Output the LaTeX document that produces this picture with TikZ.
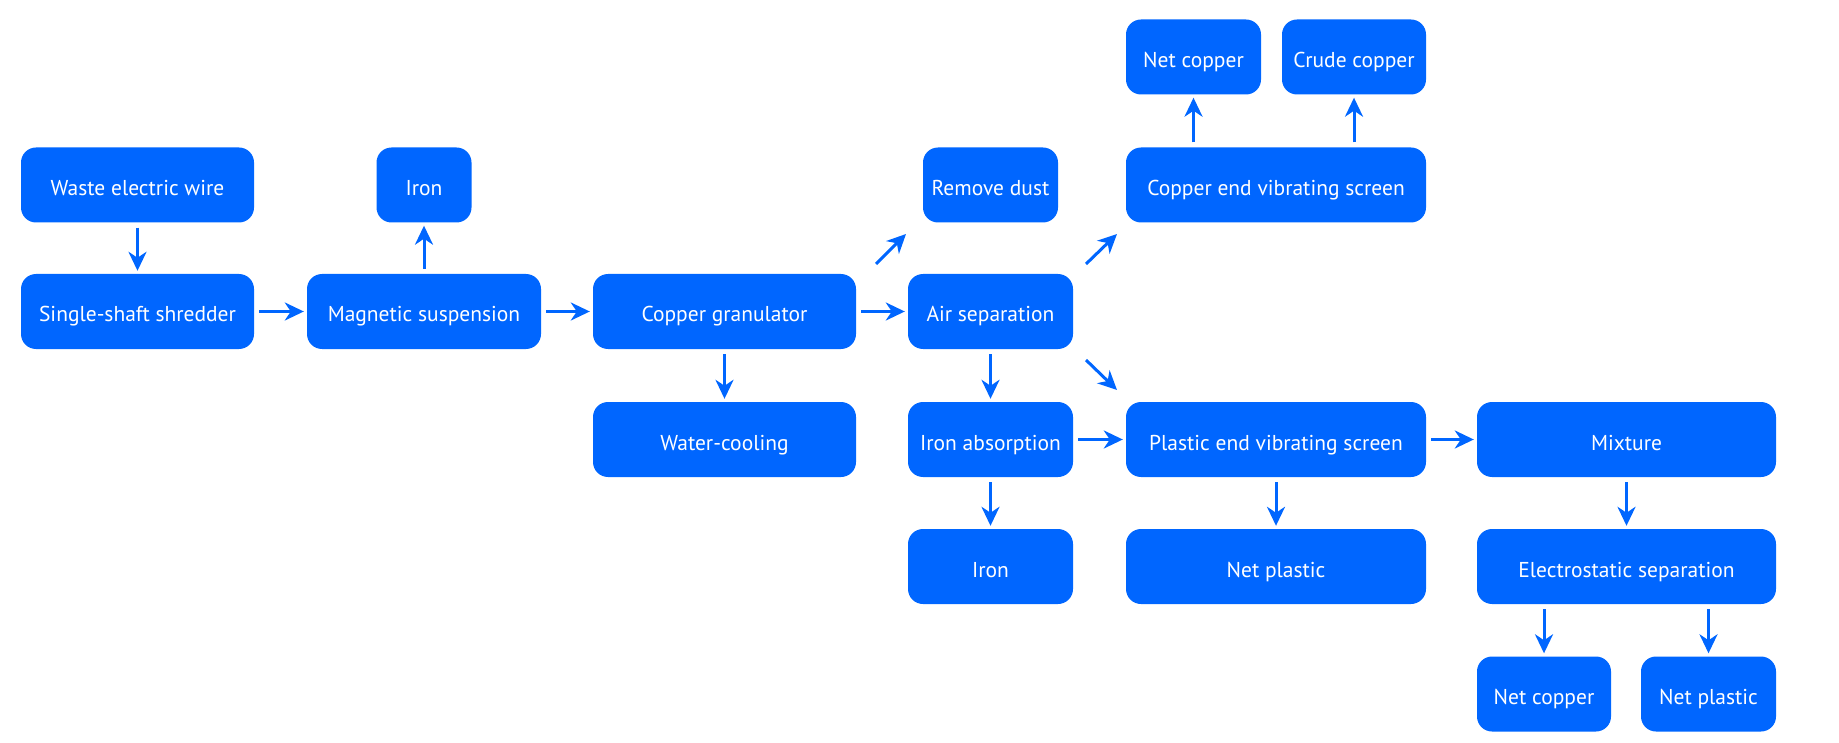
\documentclass[tikz,border=0pt]{standalone}
\usepackage{fontspec}
\setmainfont{PT Sans}
\usetikzlibrary{arrows.meta}
\definecolor{boxblue}{RGB}{0,102,255}
\begin{document}
\begin{tikzpicture}[x=1pt,y=-1pt,
  box/.style={fill=boxblue, rounded corners=15pt, minimum height=75pt, inner sep=0pt, text=white, text height=21pt, text depth=0pt, font=\fontsize{21.5}{25}\selectfont},
  arr/.style={draw=boxblue, line width=3pt, -{Stealth[length=19pt,width=18pt,inset=6pt]}, shorten >=3pt, shorten <=5pt}]
\useasboundingbox (0,0) rectangle (1839,743);
% row 0
\node[box, minimum width=135pt] (netcuA) at (1193.5,57) {Net copper};
\node[box, minimum width=144pt] (crude) at (1354,57) {Crude copper};
% row 1
\node[box, minimum width=233pt] (waste) at (137.5,185) {Waste electric wire};
\node[box, minimum width=95pt] (ironA) at (424,185) {Iron};
\node[box, minimum width=135pt] (dust) at (990.5,185) {Remove dust};
\node[box, minimum width=300pt] (cuscreen) at (1276,185) {Copper end vibrating screen};
% row 2
\node[box, minimum width=233pt] (shredder) at (137.5,311.5) {Single-shaft shredder};
\node[box, minimum width=234pt] (magnetic) at (424,311.5) {Magnetic suspension};
\node[box, minimum width=263pt] (granulator) at (724.5,311.5) {Copper granulator};
\node[box, minimum width=165pt] (air) at (990.5,311.5) {Air separation};
% row 3
\node[box, minimum width=263pt] (water) at (724.5,439.5) {Water-cooling};
\node[box, minimum width=165pt] (ironabs) at (990.5,439.5) {Iron absorption};
\node[box, minimum width=300pt] (plscreen) at (1276,439.5) {Plastic end vibrating screen};
\node[box, minimum width=299pt] (mixture) at (1626.5,439.5) {Mixture};
% row 4
\node[box, minimum width=165pt] (ironB) at (990.5,566.5) {Iron};
\node[box, minimum width=300pt] (netplA) at (1276,566.5) {Net plastic};
\node[box, minimum width=299pt] (electro) at (1626.5,566.5) {Electrostatic separation};
% row 5
\node[box, minimum width=134pt] (netcuB) at (1544,694) {Net copper};
\node[box, minimum width=135pt] (netplB) at (1708.5,694) {Net plastic};
% free ends of diagonal connectors
\coordinate (d1s) at (876,264); \coordinate (d1e) at (906,234);
\coordinate (d2s) at (1086,264); \coordinate (d2e) at (1117,234);
\coordinate (d3s) at (1086,360); \coordinate (d3e) at (1117,390);
% connectors
\draw[arr] (waste) -- (shredder);
\draw[arr] (shredder) -- (magnetic);
\draw[arr] (magnetic) -- (ironA);
\draw[arr] (magnetic) -- (granulator);
\draw[arr] (granulator) -- (air);
\draw[arr] (granulator) -- (water);
\draw[arr] (air) -- (ironabs);
\draw[arr] (ironabs) -- (plscreen);
\draw[arr] (ironabs) -- (ironB);
\draw[arr] (cuscreen.north -| netcuA) -- (netcuA);
\draw[arr] (cuscreen.north -| crude) -- (crude);
\draw[arr] (plscreen) -- (netplA);
\draw[arr] (plscreen) -- (mixture);
\draw[arr] (mixture) -- (electro);
\draw[arr] (electro.south -| netcuB) -- (netcuB);
\draw[arr] (electro.south -| netplB) -- (netplB);
\draw[arr, shorten <=0pt, shorten >=0pt] (d1s) -- (d1e);
\draw[arr, shorten <=0pt, shorten >=0pt] (d2s) -- (d2e);
\draw[arr, shorten <=0pt, shorten >=0pt] (d3s) -- (d3e);
\end{tikzpicture}
\end{document}
